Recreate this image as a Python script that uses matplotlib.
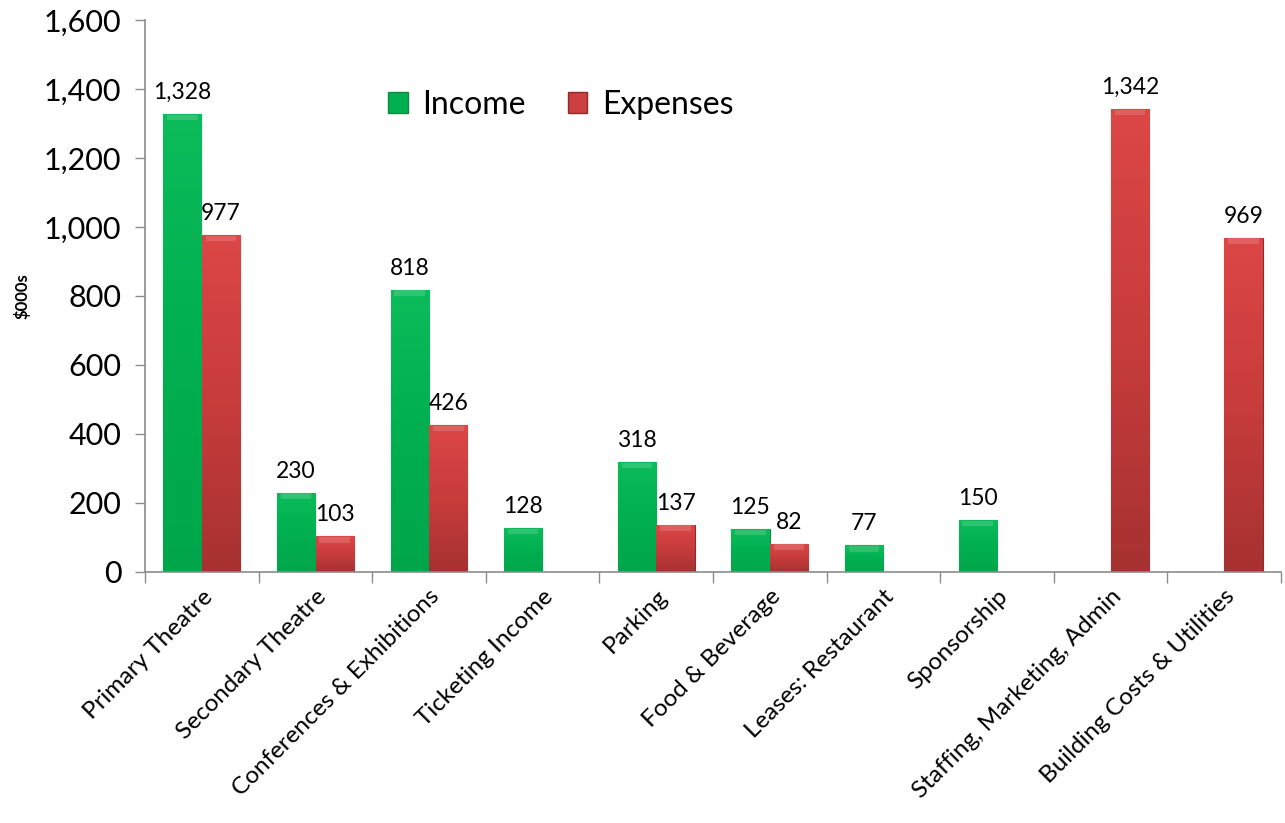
import numpy as np
import matplotlib
matplotlib.use("Agg")
import matplotlib.pyplot as plt
from matplotlib.patches import Patch
from matplotlib.colors import LinearSegmentedColormap
from matplotlib.ticker import FuncFormatter, FixedLocator

plt.rcParams['font.family'] = ['Lato', 'DejaVu Sans']

categories = ["Primary Theatre", "Secondary Theatre", "Conferences & Exhibitions",
              "Ticketing Income", "Parking", "Food & Beverage", "Leases: Restaurant",
              "Sponsorship", "Staffing, Marketing, Admin", "Building Costs & Utilities"]
income = [1328, 230, 818, 128, 318, 125, 77, 150, np.nan, np.nan]
expenses = [977, 103, 426, np.nan, 137, 82, np.nan, np.nan, 1342, 969]
yticks = [0, 200, 400, 600, 800, 1000, 1200, 1400, 1600]

fig = plt.figure(figsize=(12.85, 8.23), dpi=100)
ax = fig.add_axes([0.1128, 0.305, 0.8841, 0.6707])

x = np.arange(len(categories))
w = 0.335
off = 0.17

green_cmap = LinearSegmentedColormap.from_list("g", ["#0cbb5a", "#00b050", "#02a64b"])
red_cmap = LinearSegmentedColormap.from_list("r", ["#dc4646", "#c83c3c", "#a63131"])

b1 = ax.bar(x - off, income, w, color="#00b050", edgecolor="#0a8a42", linewidth=0.8, zorder=2)
b2 = ax.bar(x + off, expenses, w, color="#c83c3c", edgecolor="#8e2a2a", linewidth=0.8, zorder=2)

grad = np.linspace(0, 1, 256).reshape(-1, 1)
for bars, cmap in ((b1, green_cmap), (b2, red_cmap)):
    for p in bars:
        h = p.get_height()
        if not np.isfinite(h) or h <= 0:
            continue
        x0 = p.get_x()
        im = ax.imshow(grad, cmap=cmap, aspect='auto', extent=(x0, x0 + p.get_width(), 0, h),
                       origin='upper', zorder=2.5)
        im.set_clip_path(p)
        ax.bar(p.get_x() + p.get_width() / 2, 16, p.get_width() * 0.8, bottom=h - 18,
               color="white", alpha=0.15, linewidth=0, zorder=2.6)

def lab(bars, vals):
    for p, v in zip(bars, vals):
        if np.isfinite(v):
            ax.annotate(f"{v:,.0f}", (p.get_x() + p.get_width() / 2, v),
                        xytext=(0, 8), textcoords="offset points",
                        ha="center", va="bottom", fontsize=16.5, color="black", zorder=5)

lab(b1, income)
lab(b2, expenses)

ax.set_xlim(-0.5, len(categories) - 0.5)
ax.set_ylim(0, 1600)
ax.set_yticks(yticks)
ax.yaxis.set_major_formatter(FuncFormatter(lambda v, p: f"{v:,.0f}"))
ax.tick_params(axis='y', labelsize=22, length=7, width=1, color="#8c8c8c", direction='out', pad=10)

ax.set_xticks(x)
ax.set_xticklabels(categories, rotation=45, ha='right', rotation_mode='anchor', fontsize=17.5)
ax.tick_params(axis='x', which='major', length=0, pad=10)
ax.xaxis.set_minor_locator(FixedLocator(np.arange(-0.5, len(categories), 1.0)))
ax.tick_params(axis='x', which='minor', length=8, width=1, color="#8c8c8c", direction='out')

for s in ("top", "right"):
    ax.spines[s].set_visible(False)
for s in ("left", "bottom"):
    ax.spines[s].set_color("#8c8c8c")
    ax.spines[s].set_linewidth(1.2)

fig.text(22 / 1285, 1 - 296 / 823, "$000s", rotation=90, ha='center', va='center',
         fontsize=12, fontweight='bold')

handles = [Patch(facecolor="#00b050", edgecolor="#0a8a42", label="Income"),
           Patch(facecolor="#cc4040", edgecolor="#8e2a2a", label="Expenses")]
ax.legend(handles=handles, loc='center left', bbox_to_anchor=(0.203, 0.846), frameon=False,
          fontsize=23, handlelength=0.62, handleheight=0.62, handletextpad=0.45, columnspacing=1.3,
          ncol=2, borderaxespad=0)

fig.savefig("out.png", dpi=100)
